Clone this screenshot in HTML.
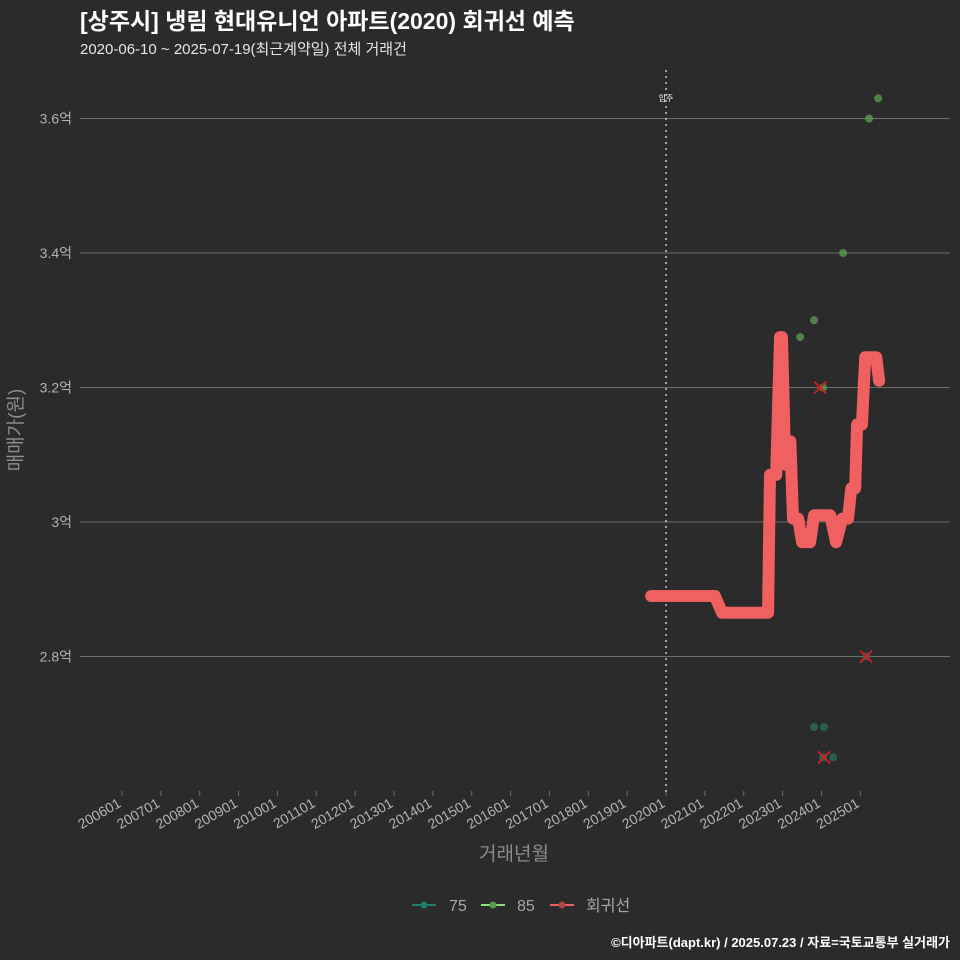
<!DOCTYPE html>
<html><head><meta charset="utf-8"><style>
html,body{margin:0;padding:0;background:#2b2b2b;overflow:hidden;width:960px;height:960px;}
svg{display:block;}
svg text{font-family:"Liberation Sans","Noto Sans CJK KR",sans-serif;}
</style></head><body>
<svg width="960" height="960" viewBox="0 0 960 960" xmlns="http://www.w3.org/2000/svg">
<rect width="960" height="960" fill="#2b2b2b"/>
<text x="80" y="29" fill="#ffffff" font-size="23" font-weight="bold">[상주시] 냉림 현대유니언 아파트(2020) 회귀선 예측</text>
<text x="80" y="54" fill="#e6e6e6" font-size="15">2020-06-10 ~ 2025-07-19(최근계약일) 전체 거래건</text>
<g id="grid"></g><g id="xaxis"></g><g id="marks"></g>
<text transform="translate(22,430) rotate(-90)" text-anchor="middle" fill="#8c8c8c" font-size="19">매매가(원)</text>
<text x="514" y="860" text-anchor="middle" fill="#8c8c8c" font-size="19">거래년월</text>
<g font-size="16" fill="#a6a6a6">
<g><line x1="412" y1="905" x2="436" y2="905" stroke="#1f7a70" stroke-width="2"/><circle cx="424" cy="905" r="3.5" fill="#1f7a70"/><text x="449" y="911">75</text></g>
<g><line x1="481" y1="905" x2="505" y2="905" stroke="#8fe07a" stroke-width="2"/><circle cx="493" cy="905" r="3.5" fill="#5a9a50"/><text x="517" y="911">85</text></g>
<g><line x1="550" y1="905" x2="574" y2="905" stroke="#f06060" stroke-width="2"/><circle cx="562" cy="905" r="3.5" fill="#a84848"/><text x="586" y="911">회귀선</text></g>
</g>
<text x="950" y="947" text-anchor="end" fill="#ffffff" font-size="13" font-weight="bold">©디아파트(dapt.kr) / 2025.07.23 / 자료=국토교통부 실거래가</text>
</svg>
<script>
// values: months since 2006-01, price in 억
const yTicks=[2.8,3.0,3.2,3.4,3.6];
const yLabels=['2.8억','3억','3.2억','3.4억','3.6억'];
const xTickLabels=['200601','200701','200801','200901','201001','201101','201201','201301','201401','201501','201601','201701','201801','201901','202001','202101','202201','202301','202401','202501'];
const regMonths=[163.4,183.1,185.3,199.5,200.1,202,203.2,203.8,204.8,206.4,207.2,208.8,210,212.5,213.7,218.7,220.5,222.4,224.2,225.2,226.4,227,228.5,229.5,232.9,233.8];
const regValues=[2.89,2.89,2.865,2.865,3.07,3.07,3.275,3.275,3.085,3.12,3.005,3.005,2.97,2.97,3.01,3.01,2.97,3.005,3.005,3.05,3.05,3.145,3.145,3.245,3.245,3.21];
const s85Months=[209.4,213.7,222.7,230.7,233.5,216.5];
const s85Values=[3.275,3.30,3.40,3.60,3.63,3.20];
const s75Months=[213.7,216.8,216.5,219.6,229.8];
const s75Values=[2.695,2.695,2.65,2.65,2.80];
const xMarkMonths=[215.6,216.8,229.8];
const xMarkValues=[3.20,2.65,2.80];
const moveInMonth=168;

const ns='http://www.w3.org/2000/svg';
const X=m=>122+m*38.86/12;
const Y=v=>522-(v-3.0)*672.5;
function mk(tag,attrs,parent){const e=document.createElementNS(ns,tag);for(const k in attrs)e.setAttribute(k,attrs[k]);parent.appendChild(e);return e;}
const grid=document.getElementById('grid'),xa=document.getElementById('xaxis'),marks=document.getElementById('marks');
yTicks.forEach((v,i)=>{
 const l=mk('line',{x1:80,x2:950,y1:Y(v),y2:Y(v),stroke:'#6e6e6e','stroke-width':1},grid);
 
 
 const t=mk('text',{x:72,y:Y(v)+5,'text-anchor':'end',fill:'#b3b3b3','font-size':14},grid);t.textContent=yLabels[i];
 
 
});
xTickLabels.forEach((s,i)=>{
 const x=X(i*12);
 const tk=mk('line',{x1:x,x2:x,y1:791,y2:796,stroke:'#6e6e6e'},xa);
 
 
 const t=mk('text',{transform:`translate(${x},${806}) rotate(-30)`,'text-anchor':'end',fill:'#b3b3b3','font-size':14},xa);t.textContent=s;
 
 
});
const vx=X(moveInMonth);
const vl=mk('line',{x1:vx,x2:vx,y1:70,y2:795,stroke:'#cccccc','stroke-width':1.5,'stroke-dasharray':'2,4'},marks);


const vt=mk('text',{x:vx,y:101,'text-anchor':'middle',fill:'#ffffff','font-size':8},marks);vt.textContent='입주';


s75Months.forEach((m,i)=>{const c=mk('circle',{cx:X(m),cy:Y(s75Values[i]),r:4,fill:'#2a6b5e','fill-opacity':0.8},marks);
 
 });
s85Months.forEach((m,i)=>{const c=mk('circle',{cx:X(m),cy:Y(s85Values[i]),r:4,fill:'#5a9a50','fill-opacity':0.8},marks);
 
 });
const p=mk('polyline',{points:regMonths.map((m,i)=>X(m)+','+Y(regValues[i])).join(' '),fill:'none',stroke:'#f06060','stroke-width':12,'stroke-linejoin':'round','stroke-linecap':'round'},marks);


xMarkMonths.forEach((m,i)=>{const x=X(m),y=Y(xMarkValues[i]);
 const g=mk('path',{d:`M${x-6},${y-6}L${x+6},${y+6}M${x+6},${y-6}L${x-6},${y+6}`,stroke:'#d42020','stroke-width':1.8},marks);
 
 });
</script>
</body></html>
